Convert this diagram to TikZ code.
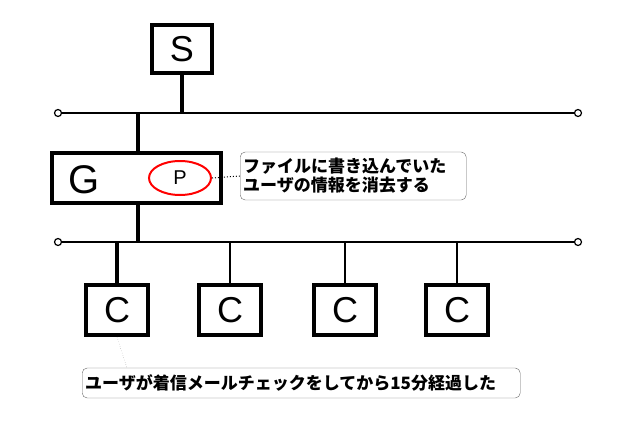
\documentclass[tikz,border=0pt]{standalone}
\usetikzlibrary{shapes.geometric}
\usepackage{fontspec}
\setmainfont{Liberation Sans}
\newfontfamily\cjk{Noto Sans CJK JP}
\begin{document}
\begin{tikzpicture}[x=1pt,y=-1pt,
 box/.style={draw,line width=4pt,inner sep=0pt,font=\fontsize{36}{36}\selectfont},
 note/.style={draw=black!60,rounded corners=5pt,inner sep=3pt,align=left,font=\cjk\fontsize{17}{19}\selectfont\bfseries},
 bus/.style={line width=2.2pt},
 term/.style={circle,draw,line width=1.2pt,fill=white,inner sep=0pt,minimum size=7pt}]
\useasboundingbox (0,0) rectangle (634,420);
\node[box,minimum width=60pt,minimum height=48pt] (S) at (182,49) {S};
\node[box,minimum width=169pt,minimum height=50pt] (G) at (136.5,178) {};
\node[font=\fontsize{40}{40}\selectfont] (Gl) at (84,180) {G};
\node[draw=red,line width=2pt,ellipse,minimum width=62pt,minimum height=34pt,inner sep=0pt,font=\fontsize{20}{20}\selectfont] (P) at (180,178) {P};
\node[note,minimum height=48pt,text width=220pt,anchor=west] (n1) at (240,176) {ファイルに書き込んでいた\\ユーザの情報を消去する};
\draw[dotted,line width=1pt] (P.east) -- (n1.west);
\coordinate (b1l) at (58,113); \coordinate (b1r) at (578,113);
\coordinate (b2l) at (58,242); \coordinate (b2r) at (578,242);
\draw[bus] (b1l) -- (b1r);
\draw[bus] (b2l) -- (b2r);
\node[term] at (b1l) {}; \node[term] at (b1r) {};
\node[term] at (b2l) {}; \node[term] at (b2r) {};
\coordinate (sj) at (182,113);
\draw[line width=3.5pt] (S.south) -- (sj);
\coordinate (g1) at (138,113); \coordinate (g2) at (138,242);
\draw[line width=3.5pt] (g1) -- (138,153);
\draw[line width=3.5pt] (138,203) -- (g2);
\foreach \i/\x/\w in {1/117/3.5,2/230/2.2,3/345/2.2,4/457/2.2}{
  \node[box,minimum width=62pt,minimum height=50pt] (C\i) at (\x,310) {C};
  \coordinate (t\i) at (\x,242);
  \draw[line width=\w pt] (t\i) -- (C\i.north);
}
\node[note,text width=432pt,minimum height=30pt,anchor=west] (n2) at (82,383) {ユーザが着信メールチェックをしてから15分経過した};
\draw[dotted,gray] (C1.south) -- (127,368);
\end{tikzpicture}
\end{document}
